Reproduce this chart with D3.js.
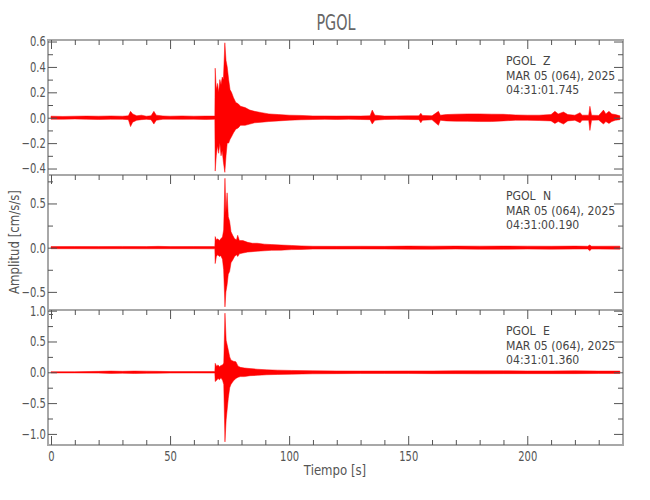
<!DOCTYPE html>
<html>
<head>
<meta charset="utf-8">
<script src="https://cdn.jsdelivr.net/npm/d3@7"></script>
<style>
  body { margin: 0; background: #fff; }
  text { font-family: "DejaVu Sans", sans-serif; fill: #555; }
</style>
</head>
<body>
<div id="chart"></div>
<script>
/* ---------- data (envelopes) ---------- */
var station = "PGOL";
var components = ["Z", "N", "E"];
var dateLabel = "MAR 05 (064), 2025";
var startTimes = ["04:31:01.745", "04:31:00.190", "04:31:01.360"];

// vertical component
var timeZ  = [0, 5, 10, 15, 20, 25, 30, 32.5, 33.4, 34.3, 36, 38, 40, 42, 43.2, 44.2, 47, 50, 55, 60, 65, 68.8,
              68.95, 69.4, 69.9, 70.4, 70.9, 71.4, 71.9, 72.4, 73.0, 73.5, 74.0, 74.6, 75.2, 75.8, 76.6, 77.6, 78.6, 79.6,
              81.5, 83.5, 85.5, 88.5, 91.5, 95.5, 100, 105, 110, 115, 120, 125, 130, 134, 134.9, 136, 140, 145, 150,
              154.5, 155.3, 156, 160, 162.7, 163.5, 166, 170, 175, 180, 185, 190, 195, 200, 205, 210, 211.6, 213,
              215.2, 217, 220, 222.2, 223, 225.8, 226.3, 227, 230, 232, 233, 234.3, 235.5, 237, 238.9];
var upperZ = [0.012, 0.010, 0.012, 0.013, 0.012, 0.014, 0.012, 0.015, 0.05, 0.03, 0.015, 0.02, 0.012, 0.015, 0.05, 0.02, 0.014, 0.012, 0.014, 0.012, 0.013, 0.013,
              0.39, 0.22, 0.27, 0.20, 0.30, 0.26, 0.32, 0.30, 0.59, 0.45, 0.40, 0.30, 0.22, 0.20, 0.16, 0.12, 0.11, 0.09,
              0.08, 0.06, 0.05, 0.04, 0.03, 0.025, 0.02, 0.018, 0.014, 0.014, 0.013, 0.014, 0.013, 0.015, 0.06, 0.02, 0.013, 0.014, 0.015,
              0.015, 0.035, 0.018, 0.015, 0.05, 0.02, 0.025, 0.028, 0.03, 0.03, 0.028, 0.027, 0.022, 0.02, 0.02, 0.025, 0.05, 0.03,
              0.045, 0.025, 0.02, 0.04, 0.02, 0.02, 0.09, 0.02, 0.018, 0.06, 0.03, 0.05, 0.03, 0.025, 0.015];
var lowerZ = [-0.012, -0.012, -0.010, -0.012, -0.014, -0.012, -0.013, -0.015, -0.07, -0.035, -0.02, -0.015, -0.013, -0.015, -0.05, -0.02, -0.012, -0.012, -0.013, -0.012, -0.014, -0.012,
              -0.42, -0.30, -0.22, -0.28, -0.20, -0.30, -0.26, -0.35, -0.43, -0.30, -0.20, -0.20, -0.17, -0.15, -0.12, -0.09, -0.08, -0.06,
              -0.06, -0.05, -0.04, -0.035, -0.03, -0.025, -0.02, -0.016, -0.014, -0.013, -0.014, -0.012, -0.014, -0.015, -0.05, -0.02, -0.014, -0.013, -0.014,
              -0.015, -0.04, -0.02, -0.016, -0.06, -0.02, -0.025, -0.027, -0.028, -0.03, -0.03, -0.025, -0.02, -0.02, -0.022, -0.025, -0.045, -0.03,
              -0.05, -0.025, -0.02, -0.04, -0.02, -0.02, -0.10, -0.02, -0.018, -0.05, -0.03, -0.045, -0.03, -0.02, -0.015];

// north component
var timeN  = [0, 10, 20, 30, 40, 45, 50, 60, 68.8, 68.95, 69.45, 70.0, 70.7, 71.3, 72.0, 72.5, 73.05, 73.45, 73.95, 74.45,
              75.0, 75.6, 76.3, 77.1, 77.9, 78.4, 79.1, 80.6, 82.6, 84.6, 86.6, 89.6, 92.6, 96.6, 101, 105, 110, 120, 130,
              140, 150, 160, 170, 180, 190, 200, 210, 220, 225.4, 226.2, 227, 230, 238.9];
var upperN = [0.012, 0.013, 0.012, 0.014, 0.012, 0.015, 0.012, 0.013, 0.012, 0.125, 0.09, 0.10, 0.08, 0.10, 0.12, 0.20, 0.785, 0.40, 0.62, 0.35,
              0.30, 0.18, 0.14, 0.10, 0.09, 0.14, 0.08, 0.08, 0.06, 0.05, 0.05, 0.04, 0.035, 0.03, 0.025, 0.02, 0.016, 0.015, 0.016,
              0.015, 0.018, 0.017, 0.018, 0.017, 0.018, 0.017, 0.016, 0.018, 0.016, 0.03, 0.016, 0.016, 0.017];
var lowerN = [-0.012, -0.012, -0.013, -0.012, -0.013, -0.012, -0.012, -0.012, -0.013, -0.18, -0.10, -0.08, -0.10, -0.09, -0.13, -0.25, -0.67, -0.50, -0.42, -0.30,
              -0.27, -0.17, -0.14, -0.10, -0.08, -0.10, -0.07, -0.06, -0.05, -0.045, -0.04, -0.035, -0.03, -0.028, -0.022, -0.02, -0.016, -0.016, -0.015,
              -0.016, -0.017, -0.018, -0.016, -0.018, -0.017, -0.016, -0.017, -0.016, -0.015, -0.035, -0.016, -0.016, -0.017];

// east component
var timeE  = [0, 10, 20, 25, 30, 35, 40, 45, 50, 60, 68.8, 68.95, 69.55, 70.15, 70.75, 71.35, 72.05, 72.55, 73.05, 73.55,
              74.45, 75.05, 75.55, 76.55, 77.65, 78.55, 79.55, 81.2, 83.6, 86.6, 90.6, 95.1, 101, 110, 120, 130, 140, 150,
              160, 170, 180, 190, 200, 210, 220, 230, 238.9];
var upperE = [0.010, 0.010, 0.015, 0.020, 0.016, 0.020, 0.018, 0.015, 0.012, 0.012, 0.012, 0.146, 0.10, 0.12, 0.09, 0.11, 0.12, 0.15, 0.96, 0.52,
              0.36, 0.25, 0.20, 0.18, 0.17, 0.10, 0.08, 0.07, 0.06, 0.05, 0.04, 0.035, 0.03, 0.025, 0.022, 0.02, 0.02, 0.022,
              0.022, 0.024, 0.024, 0.024, 0.022, 0.022, 0.024, 0.02, 0.02];
var lowerE = [-0.010, -0.010, -0.013, -0.018, -0.015, -0.020, -0.017, -0.014, -0.012, -0.011, -0.012, -0.15, -0.13, -0.10, -0.12, -0.09, -0.13, -0.20, -1.13, -0.77,
              -0.42, -0.25, -0.20, -0.14, -0.10, -0.08, -0.07, -0.07, -0.055, -0.05, -0.04, -0.035, -0.03, -0.025, -0.022, -0.02, -0.02, -0.02,
              -0.022, -0.022, -0.024, -0.022, -0.022, -0.022, -0.022, -0.02, -0.02];

// axis settings
var xTickLabels = [0, 50, 100, 150, 200];
var yDomains    = [[-0.451, 0.612], [-0.705, 0.822], [-1.18, 1.011]];
var yMajorTicks = [[-0.4, -0.2, 0.0, 0.2, 0.4, 0.6], [-0.5, 0.0, 0.5], [-1.0, -0.5, 0.0, 0.5, 1.0]];
var yMinorTicks = [[-0.3, -0.1, 0.1, 0.3, 0.5],
                   [-0.75, -0.25, 0.25, 0.75],
                   [-0.75, -0.25, 0.25, 0.75]];

var traces = [
  {t: timeZ, up: upperZ, lo: lowerZ},
  {t: timeN, up: upperN, lo: lowerN},
  {t: timeE, up: upperE, lo: lowerE}
];

/* ---------- layout ---------- */
var W = 650, H = 500;
var left = 48, right = 623, top0 = 40, panelH = 135;

var svg = d3.select("#chart").append("svg")
            .attr("width", W)
            .attr("height", H);

var x = d3.scaleLinear()
          .domain([-1.26, 240.2])
          .range([left, right]);

var xMinor = d3.range(10, 240, 10).filter(function(d) { return d % 50 != 0; });
var fmt = d3.format(".1f");

// the plot font is a narrow stroke font, so squeeze DejaVu horizontally
function narrowText(parent, px, py, sx, size, str, anchor) {
    return parent.append("text")
                 .attr("transform", "translate(" + px + "," + py + ") scale(" + sx + ",1)")
                 .attr("text-anchor", anchor || "start")
                 .style("font-size", size + "px")
                 .text(str);
}

// title
narrowText(svg, 336, 30, 0.7, 20.5, station, "middle").style("fill", "#666");

traces.forEach(function(tr, i) {
    var y0 = top0 + i * panelH;
    var y = d3.scaleLinear()
              .domain(yDomains[i])
              .range([y0 + panelH, y0]);

    var g = svg.append("g");

    // waveform envelope
    var data = tr.t.map(function(t, k) { return {t: t, up: tr.up[k], lo: tr.lo[k]}; });
    var area = d3.area()
                 .x(function(d) { return x(d.t); })
                 .y0(function(d) { return y(d.lo); })
                 .y1(function(d) { return y(d.up); });

    g.append("path")
     .datum(data)
     .attr("d", area)
     .attr("fill", "#ff0000")
     .attr("stroke", "#ff0000")
     .attr("stroke-width", 0.5);

    // frame
    g.append("rect")
     .attr("x", left).attr("y", y0)
     .attr("width", right - left).attr("height", panelH)
     .attr("fill", "none")
     .attr("stroke", "#a8a8a8")
     .attr("stroke-width", 2);

    // y axes, ticks inward
    g.append("g").attr("transform", "translate(" + left + ",0)")
     .call(d3.axisLeft(y).tickValues(yMajorTicks[i]).tickFormat(fmt).tickSize(-9).tickPadding(3));
    g.append("g").attr("transform", "translate(" + left + ",0)")
     .call(d3.axisLeft(y).tickValues(yMinorTicks[i]).tickFormat("").tickSize(-5));
    g.append("g").attr("transform", "translate(" + right + ",0)")
     .call(d3.axisRight(y).tickValues(yMajorTicks[i]).tickFormat("").tickSize(-9));
    g.append("g").attr("transform", "translate(" + right + ",0)")
     .call(d3.axisRight(y).tickValues(yMinorTicks[i]).tickFormat("").tickSize(-5));

    // top x ticks
    g.append("g").attr("transform", "translate(0," + y0 + ")")
     .call(d3.axisTop(x).tickValues(xTickLabels).tickFormat("").tickSize(-9));
    g.append("g").attr("transform", "translate(0," + y0 + ")")
     .call(d3.axisTop(x).tickValues(xMinor).tickFormat("").tickSize(-5));

    if (i == 2) {
        g.append("g").attr("transform", "translate(0," + (y0 + panelH) + ")")
         .call(d3.axisBottom(x).tickValues(xTickLabels).tickFormat(d3.format("d")).tickSize(-9).tickPadding(6));
        g.append("g").attr("transform", "translate(0," + (y0 + panelH) + ")")
         .call(d3.axisBottom(x).tickValues(xMinor).tickFormat("").tickSize(-5));
    }

    // station / date / time label
    var ax = 506;
    narrowText(g, ax, y0 + 25, 0.86, 12.7, station, "start").style("fill", "#444");
    narrowText(g, ax + 37, y0 + 25, 0.86, 12.7, components[i], "start").style("fill", "#444");
    narrowText(g, ax, y0 + 39.5, 0.86, 12.7, dateLabel, "start").style("fill", "#444");
    narrowText(g, ax, y0 + 54, 0.86, 12.7, startTimes[i], "start").style("fill", "#444");
});

// axis styling
svg.selectAll(".domain").remove();
svg.selectAll(".tick line").attr("stroke", "#555").attr("stroke-width", 1);
svg.selectAll(".tick text")
   .attr("font-family", null)
   .attr("font-size", null)
   .style("font-size", "13.5px")
   .style("fill", "#555")
   .attr("transform", "scale(0.74,1)");

// axis titles
narrowText(svg, 335, 475, 0.84, 14, "Tiempo [s]", "middle");

svg.append("text")
   .attr("transform", "translate(19,242) rotate(-90) scale(0.84,1)")
   .attr("text-anchor", "middle")
   .style("font-size", "14px")
   .text("Amplitud [cm/s/s]");
</script>
</body>
</html>
